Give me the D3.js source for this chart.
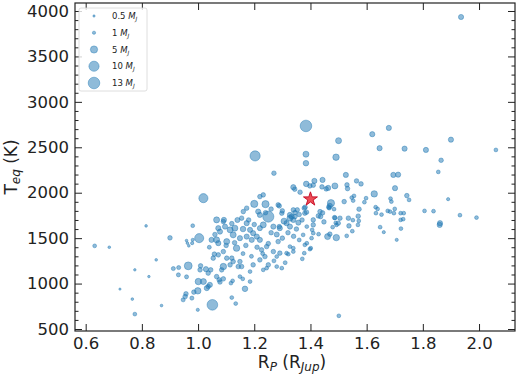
<!DOCTYPE html>
<html>
<head>
<meta charset="utf-8">
<script src="https://cdn.jsdelivr.net/npm/d3@7"></script>
<style>
    body { margin: 0; background: #fff; }
    svg { font-family: "DejaVu Sans", sans-serif; }
</style>
</head>
<body>
<div id="chart"></div>
<script>
// planet radius (R_Jup), equilibrium temperature (K), mass (M_J)
const radius = [
    1.936,1.384,1.203,1.620,1.679,1.500,1.646,1.735,1.811,1.900,2.060,1.865,1.855,1.384,1.384,1.491,1.270,1.526,1.695,1.712,
    1.385,1.414,1.443,1.339,1.344,1.363,1.463,1.456,1.487,1.530,1.532,1.564,1.580,1.627,1.701,1.547,1.555,1.598,1.685,1.688,
    1.743,1.751,1.890,1.520,1.473,1.469,1.465,1.573,1.632,1.639,1.675,1.683,1.700,1.697,1.721,1.806,1.838,1.932,1.991,1.861,
    1.860,1.730,1.648,1.661,1.722,1.707,1.570,1.572,1.535,1.505,1.486,1.537,1.569,1.529,1.492,1.461,1.499,1.493,1.479,1.448,
    1.443,1.436,1.428,1.410,1.410,1.410,1.404,1.401,1.374,1.380,1.378,1.339,1.321,1.381,1.386,1.380,1.434,1.353,1.345,1.289,
    1.240,1.250,1.200,1.232,1.306,1.327,1.333,1.315,1.289,1.387,1.387,1.398,1.371,1.406,1.429,1.469,1.490,1.487,1.467,1.484,
    1.398,1.410,1.441,1.378,1.732,1.721,1.653,1.633,1.592,1.552,1.551,1.549,1.501,
    0.632,0.684,0.815,0.900,0.959,0.962,0.967,0.851,0.775,0.825,0.722,0.766,0.775,0.870,1.019,1.004,0.965,1.051,1.001,0.999,
    0.912,0.931,0.930,0.959,0.957,0.954,0.947,0.978,0.985,0.999,0.981,0.979,1.009,1.007,1.028,1.036,1.045,1.019,1.036,1.031,
    1.042,1.066,1.075,1.084,1.090,1.120,1.134,1.117,1.123,1.159,1.185,1.167,1.058,1.054,1.072,1.090,1.102,1.120,1.125,1.114,
    1.149,1.143,1.155,1.048,1.066,1.072,1.102,1.114,1.131,1.125,1.137,1.090,1.096,1.072,1.078,1.149,1.173,1.191,1.155,1.173,
    1.185,1.196,1.209,1.220,1.161,1.173,1.220,1.214,1.220,1.285,1.298,1.327,1.339,1.345,1.232,1.268,1.291,1.327,1.339,1.357,
    1.244,1.268,1.291,1.315,1.327,1.339,1.285,1.280,1.226,1.238,1.220,1.196,1.250,1.244,1.232,1.298,1.280,1.185,1.149,0.981,
    1.092,1.066,1.078,1.090,
    1.120,1.140,1.180,1.200,1.220,1.260,1.280,1.300,1.320,1.340,1.360,1.100,1.130,1.170,1.210,1.250,1.060,1.040,1.160,1.190,
    1.230,1.270,1.310,1.350,1.370,1.360,1.300,1.260,1.160,1.240
];
const teq = [
    3934,2735,2405,2644,2713,2573,2490,2485,2471,2584,2471,2357,2229,2424,2325,2391,2215,2196,2196,2199,
    2097,2130,2141,2061,2039,2006,2053,2042,2075,2086,2045,2130,2097,1987,2050,1946,1965,1940,1935,1902,
    1968,1921,1929,1902,1885,1855,1841,1819,1841,1822,1800,1792,1822,1775,1775,1800,1797,1753,1726,1665,
    1646,1709,1621,1566,1605,1481,1742,1690,1720,1720,1726,1635,1646,1525,1506,1517,1665,1646,1621,1679,
    1778,1737,1745,1701,1646,1555,1500,1390,1536,1426,1335,1352,1324,1841,1786,1775,1792,1811,1781,1855,
    1874,1737,1877,1976,1687,1720,1737,1665,1627,1627,1444,1379,1272,1591,1544,1544,1668,1723,1830,1819,
    2075,2083,2064,1830,1775,1701,1759,1775,1896,1913,1698,1577,645,
    1415,1400,1635,1503,1473,1445,1415,1261,1151,1077,939,829,664,758,1940,1500,1195,766,1022,920,
    1165,1176,1096,1074,887,857,821,840,906,711,1481,1445,1195,1151,1159,1115,1151,1022,967,950,
    986,1077,1041,1151,1187,846,780,1005,1030,1052,1022,942,1324,1280,1316,1352,1280,1280,1242,1206,
    1242,1187,1187,1481,1481,1445,1462,1591,1610,1536,1390,1682,1627,1610,1572,1500,1517,1481,1720,1665,
    1591,1555,1517,1481,1792,1830,1957,1792,1756,1866,1775,1756,1811,1737,1646,1627,1610,1627,1701,1671,
    1407,1352,1335,1335,1407,1390,1462,1297,1371,1297,1261,1206,1206,1170,1151,1170,1187,1132,1077,1637,
    1701,1701,1017,1052,
    1660,1700,1700,1650,1610,1560,1540,1500,1560,1520,1480,1420,1450,1420,1400,1440,1540,1400,1330,1300,
    1330,1250,1230,1600,1700,1760,1800,1820,1600,1780
];
const mass = [
    2.6,13,10,2.6,2.6,3.5,2.6,2.6,2.6,2.6,1.4,2,1.4,3.5,3,4,2,2.6,2.6,2.6,
    3,2.6,2.6,2.6,2,2,2.6,2,3.5,2,2,2,2,4,2.6,1.4,1.4,1.4,1.4,1.4,
    2,1.4,1,2,5,2.6,2,2,1.4,1.4,1.4,1.4,1.4,1.4,1.4,1.4,1.4,1.4,1.4,2.6,
    2.6,1.4,1.4,1,1.4,1,2,1.4,2,2,2,2,1.4,1.4,4,3.5,2,1.4,1.4,2,
    2,2,2,2,2,1.4,1.4,1.4,1.4,1.4,1.4,1.4,1.4,2,2,2,2,2,2,2,
    5,12,5,2,3.5,3.5,2.6,2.6,2,1.4,1.4,1.4,1.4,1.4,1.4,2,1.4,1.4,1.4,1.4,
    2,2,2,2,1.4,1.4,1.4,1.4,1.4,1.4,1.4,1.4,1.4,
    1.4,0.7,0.7,2,0.7,0.7,0.7,0.7,0.6,0.6,0.5,0.7,1.4,0.7,8,8,6,11,4,4,
    1.6,1.6,1.6,1.6,2,2,1.6,1.6,2,1,1,1,2,2,2.6,2,2,3.5,2,2.6,
    2.6,2,2,2,4,1.4,1.4,1.4,1.4,1.4,1.4,3,2,2,2,2,2,2,2,2,
    2,2,2,2.6,3.5,2.6,3.5,3.5,3.5,3.5,4,2,2.6,2.6,2.6,2.6,2.6,2.6,2,2.6,
    2.6,2.6,2.6,2.6,2,2,2,2.6,2.6,2,2,2.6,2,2,3.5,2.6,2.6,2.6,2.6,2.6,
    2,2,2,1.4,1.4,1.4,2,1.4,2,2,2,2,2,1.4,1.4,1.4,1.4,1.4,1.4,1.4,
    2.6,3.5,2,2,
    2,2.5,2,2,2.5,2,2.5,2,2,2,1.5,2,2,2,2,2,2,1.5,1.5,1.5,
    1.5,1.5,1.5,2,2,2,2,2,3,2
];
// highlighted planet
const starR = [1.40];
const starT = [1929];

const legendMasses = [0.5, 1, 5, 10, 13];
const legendLabels = ['0.5', '1', '5', '10', '13'];
const xTicks = [0.6, 0.8, 1.0, 1.2, 1.4, 1.6, 1.8, 2.0];
const yTicks = [500, 1000, 1500, 2000, 2500, 3000, 3500, 4000];
const yMinorTicks = d3.range(500, 4001, 100).filter(v => v % 500 !== 0);

const W = 520, H = 381;
const pLeft = 75, pRight = 515, pTop = 3, pBottom = 331;
const blue = '#1f77b4';

const svg = d3.select('#chart').append('svg')
    .attr('width', W)
    .attr('height', H);

const x = d3.scaleLinear().domain([0.562, 2.128]).range([pLeft, pRight]);
const y = d3.scaleLinear().domain([478, 4088]).range([pBottom, pTop]);
const r = d3.scaleSqrt().domain([0, 13]).range([0, 5.8]);

const points = radius.map((d, i) => ({ r: d, t: teq[i], m: mass[i] }));

// scatter
svg.append('g')
    .selectAll('circle')
    .data(points)
    .enter()
    .append('circle')
    .attr('cx', d => x(d.r))
    .attr('cy', d => y(d.t))
    .attr('r', d => r(d.m))
    .style('fill', blue)
    .style('fill-opacity', 0.5)
    .style('stroke', blue)
    .style('stroke-opacity', 0.55)
    .style('stroke-width', 0.8);

// star
svg.append('g')
    .selectAll('path')
    .data(starR.map((d, i) => ({ r: d, t: starT[i] })))
    .enter()
    .append('path')
    .attr('d', d3.symbol().type(d3.symbolStar).size(60))
    .attr('transform', d => `translate(${x(d.r)},${y(d.t)})`)
    .style('fill', '#e8202a')
    .style('fill-opacity', 0.8)
    .style('stroke', '#c8102a')
    .style('stroke-width', 1);

// axes, ticks pointing inward on all sides
function styleAxis (g, size) {
    g.select('.domain').remove();
    g.selectAll('.tick line').attr('stroke', '#222').attr('stroke-width', 1);
    g.selectAll('.tick text')
        .attr('fill', '#222')
        .style('font-size', size + 'px')
        .style('font-family', '"DejaVu Sans", sans-serif');
}

svg.append('g')
    .attr('transform', `translate(0,${pBottom})`)
    .call(d3.axisBottom(x).tickValues(xTicks).tickFormat(d3.format('.1f')).tickSize(-7).tickPadding(6))
    .call(g => styleAxis(g, 16.5));

svg.append('g')
    .attr('transform', `translate(0,${pTop})`)
    .call(d3.axisTop(x).tickValues(xTicks).tickFormat('').tickSize(-7))
    .call(g => styleAxis(g, 10));

svg.append('g')
    .attr('transform', `translate(${pLeft},0)`)
    .call(d3.axisLeft(y).tickValues(yTicks).tickFormat(d3.format('d')).tickSize(-7).tickPadding(6))
    .call(g => styleAxis(g, 16.5));

svg.append('g')
    .attr('transform', `translate(${pLeft},0)`)
    .call(d3.axisLeft(y).tickValues(yMinorTicks).tickFormat('').tickSize(-3.5))
    .call(g => styleAxis(g, 10));

svg.append('g')
    .attr('transform', `translate(${pRight},0)`)
    .call(d3.axisRight(y).tickValues(yTicks).tickFormat('').tickSize(-7))
    .call(g => styleAxis(g, 10));

svg.append('g')
    .attr('transform', `translate(${pRight},0)`)
    .call(d3.axisRight(y).tickValues(yMinorTicks).tickFormat('').tickSize(-3.5))
    .call(g => styleAxis(g, 10));

svg.append('rect')
    .attr('x', pLeft)
    .attr('y', pTop)
    .attr('width', pRight - pLeft)
    .attr('height', pBottom - pTop)
    .style('fill', 'none')
    .style('stroke', '#222')
    .style('stroke-width', 1.2);

// axis labels
const xLab = svg.append('text')
    .attr('x', (pLeft + pRight) / 2 - 3)
    .attr('y', 368)
    .attr('text-anchor', 'middle')
    .style('font-size', '17px')
    .attr('fill', '#222');
xLab.append('tspan').text('R');
xLab.append('tspan').text('P').attr('dy', 3).style('font-size', '12px').style('font-style', 'italic');
xLab.append('tspan').text(' (R').attr('dy', -3);
xLab.append('tspan').text('Jup').attr('dy', 3).style('font-size', '12px').style('font-style', 'italic');
xLab.append('tspan').text(')').attr('dy', -3);

const yLab = svg.append('text')
    .attr('transform', `translate(17,${(pTop + pBottom) / 2}) rotate(-90)`)
    .attr('text-anchor', 'middle')
    .style('font-size', '17px')
    .attr('fill', '#222');
yLab.append('tspan').text('T');
yLab.append('tspan').text('eq').attr('dy', 3).style('font-size', '12px').style('font-style', 'italic');
yLab.append('tspan').text(' (K)').attr('dy', -3);

// legend
const legend = svg.append('g');
legend.append('rect')
    .attr('x', 79)
    .attr('y', 8)
    .attr('width', 68)
    .attr('height', 83)
    .attr('rx', 2)
    .style('fill', '#fff')
    .style('fill-opacity', 0.8)
    .style('stroke', '#d6d6d6')
    .style('stroke-width', 0.8);

const legendY = d3.scalePoint().domain(legendLabels).range([16, 83]);

const items = legend.selectAll('g.item')
    .data(legendMasses.map((m, i) => ({ m: m, label: legendLabels[i] })))
    .enter()
    .append('g')
    .attr('class', 'item')
    .attr('transform', d => `translate(0,${legendY(d.label)})`);

items.append('circle')
    .attr('cx', 94)
    .attr('r', d => r(d.m))
    .style('fill', blue)
    .style('fill-opacity', 0.5)
    .style('stroke', blue)
    .style('stroke-opacity', 0.55)
    .style('stroke-width', 0.8);

const lt = items.append('text')
    .attr('x', 112)
    .attr('y', 3)
    .style('font-size', '8.5px')
    .attr('fill', '#222');
lt.append('tspan').text(d => d.label + ' ');
lt.append('tspan').text('M').style('font-style', 'italic');
lt.append('tspan').text('J').attr('dy', 2).style('font-size', '6px').style('font-style', 'italic');
</script>
</body>
</html>
